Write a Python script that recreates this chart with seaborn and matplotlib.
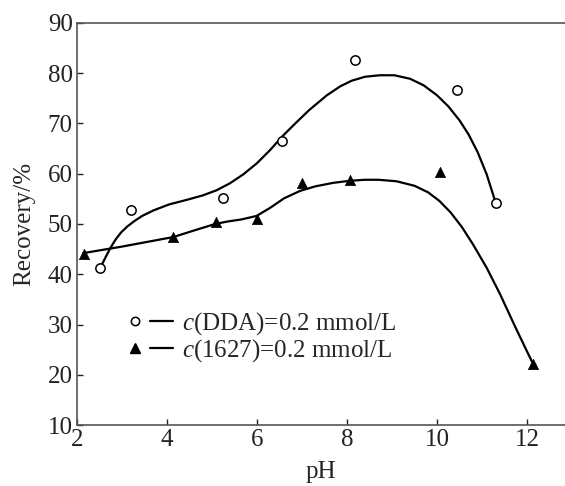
import numpy as np
import pandas as pd
import matplotlib
matplotlib.use('Agg')
import matplotlib.pyplot as plt
import seaborn as sns
from matplotlib.lines import Line2D
from matplotlib.legend_handler import HandlerTuple

# измеренные точки
ph_dda = [2.52, 3.20, 5.24, 6.55, 8.17, 10.44, 11.30]
rec_dda = [41.2, 52.8, 55.2, 66.5, 82.6, 76.7, 54.1]

ph_1627 = [2.15, 4.13, 5.08, 5.99, 7.00, 8.07, 10.07, 12.14]
rec_1627 = [44.0, 47.4, 50.3, 51.0, 58.1, 58.8, 60.3, 22.1]

# сглаженные кривые
fit_ph_dda = [2.55, 2.65, 2.75, 2.86, 2.98, 3.12, 3.28, 3.45, 3.70, 4.05, 4.44, 4.80, 5.10,
              5.40, 5.70, 6.00, 6.29, 6.58, 6.85, 7.15, 7.55, 7.85, 8.10, 8.40, 8.73, 9.05,
              9.40, 9.70, 10.00, 10.25, 10.50, 10.70, 10.90, 11.10, 11.28]
fit_rec_dda = [41.8, 43.6, 45.3, 46.9, 48.3, 49.5, 50.6, 51.6, 52.7, 53.9, 54.8, 55.7, 56.7,
               58.1, 59.9, 62.1, 64.7, 67.6, 70.0, 72.6, 75.6, 77.4, 78.5, 79.3, 79.6, 79.6,
               78.9, 77.6, 75.6, 73.4, 70.6, 67.8, 64.3, 59.9, 54.8]

fit_ph_1627 = [2.14, 3.00, 4.14, 4.60, 5.07, 5.35, 5.65, 5.99, 6.29, 6.60, 6.96, 7.30, 7.70,
               8.07, 8.40, 8.70, 9.10, 9.50, 9.80, 10.05, 10.30, 10.55, 10.80, 11.10, 11.40,
               11.70, 11.95, 12.14]
fit_rec_1627 = [44.2, 45.5, 47.4, 48.7, 50.0, 50.5, 50.9, 51.6, 53.2, 55.1, 56.6, 57.5, 58.2,
                58.6, 58.8, 58.8, 58.5, 57.6, 56.3, 54.6, 52.3, 49.4, 45.9, 41.3, 36.0,
                30.2, 25.5, 22.0]

labels = ['$c$(DDA)=0.2 mmol/L', '$c$(1627)=0.2 mmol/L']

sns.set_style('ticks')
plt.rcParams['font.family'] = ['Liberation Serif', 'DejaVu Serif']
plt.rcParams['mathtext.fontset'] = 'custom'
plt.rcParams['mathtext.it'] = 'Liberation Serif:italic'
plt.rcParams['mathtext.rm'] = 'Liberation Serif'

fig = plt.figure(figsize=(5.65, 4.86), dpi=100)
ax = fig.add_axes([0.136, 0.1255, 0.864, 0.8272])

sns.lineplot(x=fit_ph_dda, y=fit_rec_dda, color='black', lw=1.6, sort=False, estimator=None, ax=ax)
sns.lineplot(x=fit_ph_1627, y=fit_rec_1627, color='black', lw=1.6, sort=False, estimator=None, ax=ax)
sns.scatterplot(x=ph_dda, y=rec_dda, marker='o', s=45, facecolor='white', edgecolor='black',
                linewidth=1.1, zorder=3, ax=ax)
sns.scatterplot(x=ph_1627, y=rec_1627, marker='^', s=55, color='black', edgecolor='black',
                linewidth=0.5, zorder=3, ax=ax)

ax.set_xlim(2, 12.84)
ax.set_ylim(10, 90)
ax.set_xticks([2, 4, 6, 8, 10, 12])
ax.set_yticks(range(10, 91, 10))
ax.tick_params(direction='in', length=4, width=1, labelsize=18, pad=3, colors='#222222')
for s in ['left', 'bottom', 'top']:
    ax.spines[s].set_linewidth(1.2)
    ax.spines[s].set_color('#555555')
ax.spines['right'].set_visible(False)
ax.set_xlabel('pH', fontsize=18, labelpad=7)
ax.set_ylabel('Recovery/%', fontsize=18, labelpad=9)

line_h = Line2D([], [], color='black', lw=1.6)
handles = [(Line2D([], [], ls='', marker='o', mfc='white', mec='black', ms=6, mew=1.1), line_h),
           (Line2D([], [], ls='', marker='^', color='black', ms=6.5), line_h)]
ax.legend(handles, labels, handler_map={tuple: HandlerTuple(ndivide=None, pad=0.14)},
          loc='lower left', bbox_to_anchor=(0.07, 0.12), frameon=False,
          fontsize=18, handlelength=1.98, handletextpad=0.36, labelspacing=0.0, borderpad=0)

fig.savefig('out.png', dpi=100)
